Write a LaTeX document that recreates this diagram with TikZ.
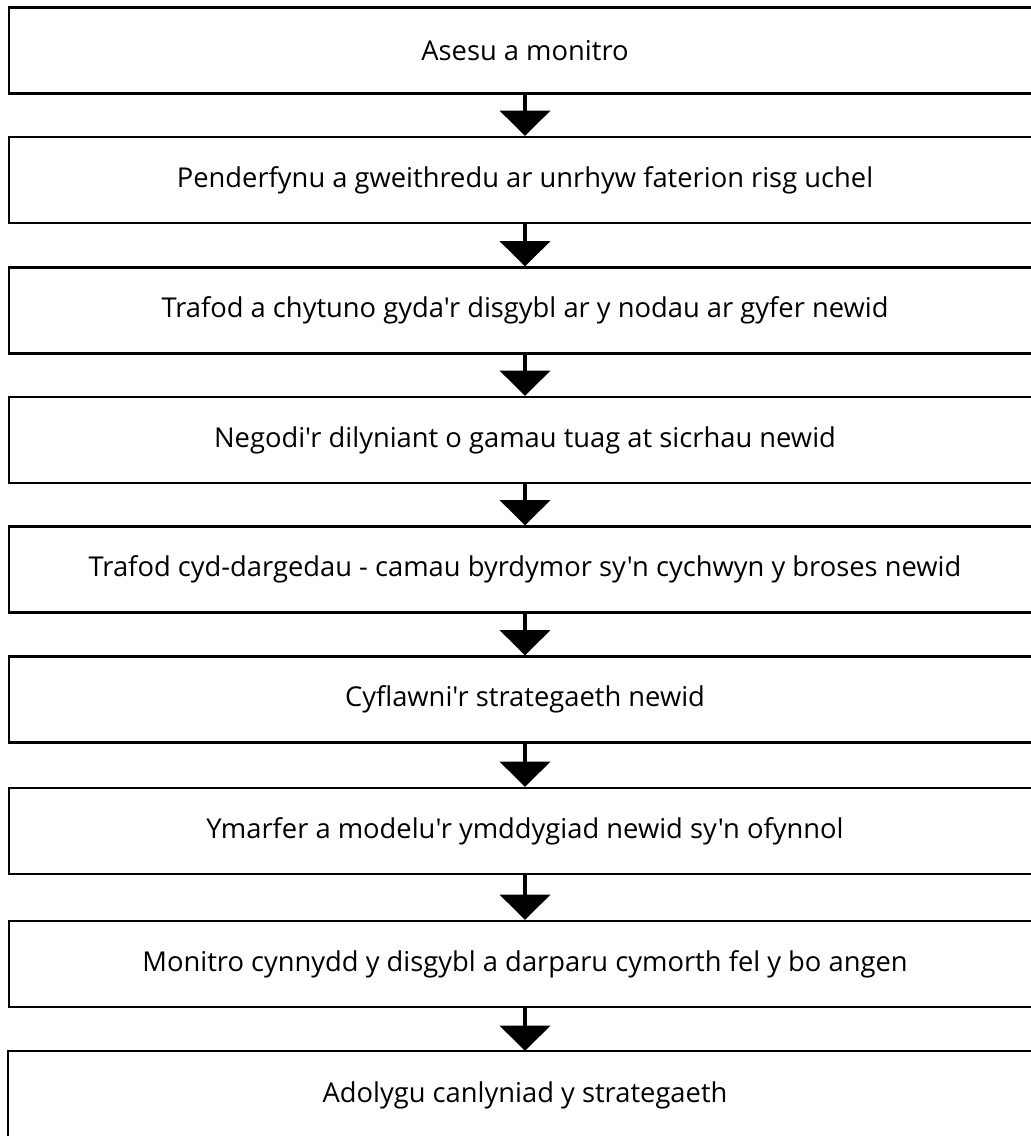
\documentclass[tikz,border=0pt]{standalone}
\usepackage{fontspec}
\setmainfont{Open Sans}[Ligatures=TeXOff]
\usetikzlibrary{arrows.meta}
\tikzset{
  stepbox/.style={draw=black,line width=1.6pt,minimum width=774pt,minimum height=64.5pt,inner sep=0pt,font=\fontsize{20.5}{24}\selectfont},
  flowarrow/.style={line width=3pt,-{Triangle[width=37.5pt,length=19pt]}}
}
\begin{document}
\begin{tikzpicture}[x=0.75pt,y=0.75pt,yscale=-1,xscale=1]
\useasboundingbox (0,0) rectangle (1031,1136);
\clip (0,0) rectangle (1031,1136);
\node [stepbox] (s1) at (525,50.5) {Asesu a monitro};
\node [stepbox] (s2) at (525,180) {Penderfynu a gweithredu ar unrhyw faterion risg uchel};
\node [stepbox] (s3) at (525,310.5) {Trafod a chytuno gyda'r disgybl ar y nodau ar gyfer newid};
\node [stepbox] (s4) at (525,440) {Negodi'r dilyniant o gamau tuag at sicrhau newid};
\node [stepbox] (s5) at (525,569.5) {Trafod cyd-dargedau - camau byrdymor sy'n cychwyn y broses newid};
\node [stepbox] (s6) at (525,699.5) {Cyflawni'r strategaeth newid};
\node [stepbox] (s7) at (525,831) {Ymarfer a modelu'r ymddygiad newid sy'n ofynnol};
\node [stepbox] (s8) at (525,964) {Monitro cynnydd y disgybl a darparu cymorth fel y bo angen};
% last box runs off the bottom edge: no bottom line
\node [stepbox,draw=none] (s9) at (525,1095) {Adolygu canlyniad y strategaeth};
\draw [line width=1.6pt] (s9.south west) -- (s9.north west) -- (s9.north east);
\draw [flowarrow] (s1.south) -- (s2.north);
\draw [flowarrow] (s2.south) -- (s3.north);
\draw [flowarrow] (s3.south) -- (s4.north);
\draw [flowarrow] (s4.south) -- (s5.north);
\draw [flowarrow] (s5.south) -- (s6.north);
\draw [flowarrow] (s6.south) -- (s7.north);
\draw [flowarrow] (s7.south) -- (s8.north);
\draw [flowarrow] (s8.south) -- (s9.north);
\end{tikzpicture}
\end{document}
